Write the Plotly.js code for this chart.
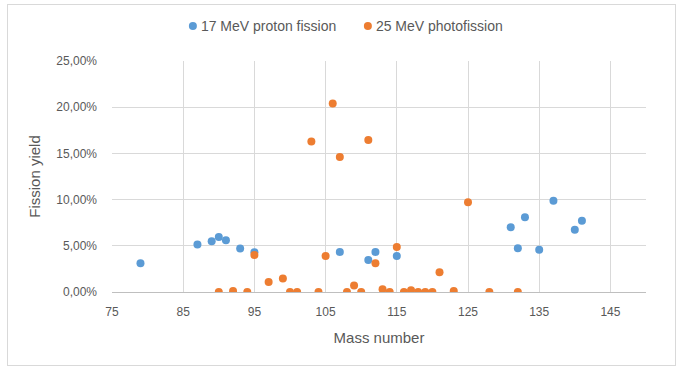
<!DOCTYPE html>
<html>
<head>
<meta charset="utf-8">
<script src="https://cdn.plot.ly/plotly-3.0.1.min.js"></script>
<style>
html,body{margin:0;padding:0;background:#fff;}
#frame{position:absolute;left:7px;top:4px;width:669px;height:362px;border:1px solid #d9d9d9;box-sizing:border-box;}
#chart{position:absolute;left:0;top:0;width:689px;height:372px;}
</style>
</head>
<body>
<div id="frame"></div>
<div id="chart"></div>
<script>
// 17 MeV proton fission
const protonMass = [79, 87, 89, 90, 91, 93, 95, 107, 111, 112, 115, 131, 132, 133, 135, 137, 140, 141];
const protonYield = [0.031, 0.0515, 0.055, 0.0595, 0.056, 0.0472, 0.043, 0.0432, 0.0346, 0.0432, 0.0389, 0.070, 0.0473, 0.0808, 0.0458, 0.0987, 0.0674, 0.0772];
// 25 MeV photofission
const photoMass = [90, 92, 94, 95, 97, 99, 100, 101, 103, 104, 105, 106, 107, 108, 109, 110, 111, 112, 113, 114, 115, 116, 117, 118, 119, 120, 121, 123, 125, 128, 132];
const photoYield = [0, 0.001, 0, 0.040, 0.0108, 0.0145, 0, 0, 0.163, 0, 0.039, 0.204, 0.146, 0, 0.007, 0, 0.1645, 0.031, 0.003, 0, 0.0486, 0, 0.002, 0, 0, 0, 0.0215, 0.001, 0.097, 0, 0];
const seriesNames = ["17 MeV proton fission", "25 MeV photofission"];
const xTicks = [75, 85, 95, 105, 115, 125, 135, 145];
const yTicks = [0, 0.05, 0.10, 0.15, 0.20, 0.25];

const font = "Liberation Sans, Arial, sans-serif";
const traces = [
  {x: protonMass, y: protonYield, name: seriesNames[0], type: "scatter", mode: "markers",
   marker: {color: "#5B9BD5", size: 8}},
  {x: photoMass, y: photoYield, name: seriesNames[1], type: "scatter", mode: "markers",
   marker: {color: "#ED7D31", size: 8}}
];
const layout = {
  width: 689, height: 372,
  paper_bgcolor: "rgba(0,0,0,0)", plot_bgcolor: "rgba(0,0,0,0)",
  separators: ",.",
  margin: {l: 112, r: 43, t: 61, b: 80, autoexpand: false},
  font: {family: font, size: 12, color: "#595959"},
  showlegend: true,
  legend: {orientation: "h", x: 0.114, xanchor: "left", y: 1.15, yanchor: "middle",
           font: {family: font, size: 14, color: "#595959"}, itemwidth: 30, traceorder: "normal",
           entrywidth: 130, entrywidthmode: "pixels"},
  xaxis: {range: [75, 150], tickvals: xTicks, ticktext: xTicks.map(String),
          showgrid: true, gridcolor: "#d9d9d9", gridwidth: 1, zeroline: false,
          showline: true, linecolor: "#bfbfbf", linewidth: 1, ticks: "", ticklabelstandoff: 9,
          tickfont: {family: font, size: 12, color: "#595959"},
          title: {text: "Mass number", font: {family: font, size: 15, color: "#595959"}, standoff: 14}},
  yaxis: {range: [0, 0.25], tickvals: yTicks, tickformat: ".2%",
          showgrid: true, gridcolor: "#d9d9d9", gridwidth: 1, zeroline: false,
          showline: false, ticks: "", ticklabelstandoff: 14,
          tickfont: {family: font, size: 12, color: "#595959"},
          title: {text: "Fission yield", font: {family: font, size: 15, color: "#595959"}, standoff: 12}}
};
Plotly.newPlot("chart", traces, layout, {displayModeBar: false, staticPlot: true}).then(function(gd){
  // pull legend labels closer to their markers, as in the reference
  gd.querySelectorAll(".legendtext").forEach(function(t){ t.setAttribute("x", 28); });
});
</script>
</body>
</html>
